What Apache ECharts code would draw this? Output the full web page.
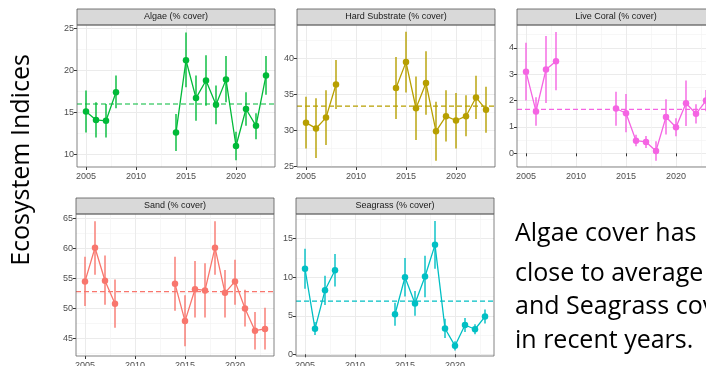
<!DOCTYPE html>
<html>
<head>
<meta charset="utf-8">
<script src="https://cdn.jsdelivr.net/npm/echarts@6/dist/echarts.min.js"></script>
<style>
  html, body { margin: 0; padding: 0; background: #fff; }
  #main { width: 706px; height: 366px; }
</style>
</head>
<body>
<div id="main"></div>
<script>
// survey years (gap 2009-2013)
const years = [2005, 2006, 2007, 2008, 2014, 2015, 2016, 2017, 2018, 2019, 2020, 2021, 2022, 2023];
const yearTicks = [2005, 2010, 2015, 2020];

const algae   = [15.1, 14.1, 14.0, 17.4, 12.6, 21.2, 16.7, 18.8, 15.9, 18.9, 11.0, 15.4, 13.4, 19.4];
const algaeLo = [12.6, 12.0, 12.0, 15.5, 10.4, 18.0, 14.0, 15.8, 13.6, 16.2, 9.3, 13.4, 11.8, 17.1];
const algaeHi = [17.6, 16.2, 16.0, 19.4, 14.8, 24.5, 19.4, 21.8, 18.2, 21.7, 12.7, 17.4, 14.9, 21.7];
const algaeAvg = 16.0;
const algaeTicks = [10, 15, 20, 25];

const hard   = [31.1, 30.3, 31.8, 36.4, 35.9, 39.5, 33.1, 36.6, 29.9, 32.0, 31.4, 32.0, 34.6, 32.9];
const hardLo = [27.5, 26.2, 28.0, 33.0, 31.6, 35.3, 28.7, 32.2, 25.8, 28.5, 27.5, 29.2, 31.6, 29.7];
const hardHi = [34.7, 34.5, 35.6, 39.8, 40.2, 43.7, 37.5, 41.0, 34.0, 35.6, 35.2, 34.9, 37.6, 36.1];
const hardAvg = 33.4;
const hardTicks = [25, 30, 35, 40];

const coral   = [3.10, 1.59, 3.18, 3.49, 1.70, 1.52, 0.48, 0.43, 0.09, 1.38, 0.99, 1.90, 1.50, 2.00];
const coralLo = [2.00, 1.05, 1.91, 2.39, 1.05, 0.80, 0.27, 0.20, -0.28, 0.71, 0.65, 1.04, 1.13, 1.60];
const coralHi = [4.20, 2.13, 4.45, 4.60, 2.34, 2.25, 0.70, 0.66, 0.46, 2.05, 1.33, 2.76, 1.86, 2.40];
const coralAvg = 1.67;
const coralTicks = [0, 1, 2, 3, 4];

const sand   = [54.5, 60.1, 54.6, 50.8, 54.1, 47.9, 53.2, 53.0, 60.1, 52.6, 54.5, 50.0, 46.3, 46.6];
const sandLo = [50.4, 55.6, 50.6, 46.8, 49.6, 43.7, 48.5, 48.5, 55.6, 48.5, 50.6, 47.0, 43.2, 43.2];
const sandHi = [58.6, 64.5, 58.8, 54.8, 58.6, 52.2, 57.9, 57.5, 64.5, 56.4, 58.1, 53.1, 49.4, 50.1];
const sandAvg = 52.8;
const sandTicks = [45, 50, 55, 60, 65];

const seagrass   = [11.1, 3.3, 8.3, 10.9, 5.2, 10.0, 6.6, 10.1, 14.2, 3.35, 1.1, 3.8, 3.25, 4.9];
const seagrassLo = [8.5, 2.5, 6.4, 8.8, 3.7, 7.5, 5.0, 7.4, 11.1, 2.1, 0.5, 2.9, 2.6, 4.0];
const seagrassHi = [13.7, 4.2, 10.2, 13.0, 6.7, 12.5, 8.2, 12.8, 17.3, 4.6, 1.7, 4.7, 3.9, 5.8];
const seagrassAvg = 6.9;
const seagrassTicks = [0, 5, 10, 15];

const titles = ['Algae (% cover)', 'Hard Substrate (% cover)', 'Live Coral (% cover)', 'Sand (% cover)', 'Seagrass (% cover)'];
const colors = ['#00BA38', '#B79F00', '#F564E3', '#F8766D', '#00BFC4'];

const note = ['Algae cover has', 'close to average', 'and Seagrass cov', 'in recent years.'];

// panel placement (px) and padded axis ranges
const W = 198, H = 142;
const X_MIN = 2004.1, X_MAX = 2023.9;
const panels = [
  { left: 77, top: 25, yMin: 8.5, yMax: 25.4, split: 4, v: algae, lo: algaeLo, hi: algaeHi, avg: algaeAvg, ticks: algaeTicks },
  { left: 297, top: 25, yMin: 24.95, yMax: 44.65, split: 4, v: hard, lo: hardLo, hi: hardHi, avg: hardAvg, ticks: hardTicks },
  { left: 517, top: 25, yMin: -0.52, yMax: 4.87, split: 5, v: coral, lo: coralLo, hi: coralHi, avg: coralAvg, ticks: coralTicks },
  { left: 76, top: 214, yMin: 42.1, yMax: 65.7, split: 5, v: sand, lo: sandLo, hi: sandHi, avg: sandAvg, ticks: sandTicks },
  { left: 296, top: 214, yMin: -0.22, yMax: 18.2, split: 4, v: seagrass, lo: seagrassLo, hi: seagrassHi, avg: seagrassAvg, ticks: seagrassTicks }
];

function lineData(vals) {
  const out = [];
  years.forEach((y, k) => {
    if (k > 0 && y - years[k - 1] > 1) out.push([(y + years[k - 1]) / 2, '-']);
    out.push([y, vals[k]]);
  });
  return out;
}

const labelStyle = { fontSize: 9, color: '#4D4D4D', fontFamily: 'Liberation Sans', formatter: v => String(v) };

const grid = [], xAxis = [], yAxis = [], series = [], graphic = [];

panels.forEach((p, i) => {
  const color = colors[i];
  grid.push({ left: p.left, top: p.top, width: W, height: H, containLabel: false, outerBoundsMode: 'none' });
  xAxis.push({
    type: 'value', gridIndex: i, min: X_MIN, max: X_MAX, splitNumber: 4,
    axisLine: { show: false },
    axisTick: { show: true, length: 3, lineStyle: { color: '#333' }, customValues: yearTicks },
    axisLabel: Object.assign({ margin: 5, customValues: yearTicks }, labelStyle),
    splitLine: { show: true, lineStyle: { color: '#EBEBEB', width: 1 } },
    minorTick: { show: false, splitNumber: 2 },
    minorSplitLine: { show: true, lineStyle: { color: '#F4F4F4', width: 0.7 } }
  });
  yAxis.push({
    type: 'value', gridIndex: i, min: p.yMin, max: p.yMax, splitNumber: p.split,
    axisLine: { show: false },
    axisTick: { show: true, length: 3, lineStyle: { color: '#333' }, customValues: p.ticks },
    axisLabel: Object.assign({ margin: 3, customValues: p.ticks }, labelStyle),
    splitLine: { show: true, lineStyle: { color: '#EBEBEB', width: 1 } },
    minorTick: { show: false, splitNumber: 2 },
    minorSplitLine: { show: true, lineStyle: { color: '#F4F4F4', width: 0.7 } }
  });

  // overall mean, dashed across the panel
  series.push({
    type: 'line', xAxisIndex: i, yAxisIndex: i, z: 1,
    data: [[X_MIN, p.avg], [X_MAX, p.avg]],
    symbol: 'none', silent: true,
    lineStyle: { color: color, type: [5, 3], width: 1.2 },
    emphasis: { disabled: true }
  });

  series.push({
    type: 'custom', xAxisIndex: i, yAxisIndex: i, z: 2,
    data: years.map((y, k) => [y, p.lo[k], p.hi[k]]),
    encode: { x: 0, y: [1, 2] },
    renderItem: (params, api) => {
      const a = api.coord([api.value(0), api.value(1)]);
      const b = api.coord([api.value(0), api.value(2)]);
      return {
        type: 'line',
        shape: { x1: a[0], y1: a[1], x2: b[0], y2: b[1] },
        style: { stroke: color, lineWidth: 2, opacity: 0.7 }
      };
    }
  });

  series.push({
    type: 'line', xAxisIndex: i, yAxisIndex: i, z: 3,
    data: lineData(p.v),
    connectNulls: false,
    symbol: 'circle', symbolSize: 6.5, showAllSymbol: true,
    itemStyle: { color: color },
    lineStyle: { color: color, width: 1.3 },
    emphasis: { disabled: true }
  });

  // facet strip
  graphic.push({
    type: 'rect', z: 10,
    shape: { x: p.left, y: p.top - 16, width: W, height: 16 },
    style: { fill: '#D9D9D9', stroke: '#555', lineWidth: 0.8 }
  });
  graphic.push({
    type: 'text', z: 11,
    style: {
      text: titles[i], x: p.left + W / 2, y: p.top - 8,
      font: '9px "Liberation Sans"', fill: '#1A1A1A',
      align: 'center', verticalAlign: 'middle', textAlign: 'center', textVerticalAlign: 'middle'
    }
  });
  // panel border
  graphic.push({
    type: 'rect', z: 10,
    shape: { x: p.left, y: p.top, width: W, height: H },
    style: { fill: 'none', stroke: '#666', lineWidth: 0.8 }
  });
});

graphic.push({
  type: 'text', x: 22, y: 160, rotation: Math.PI / 2,
  style: {
    text: 'Ecosystem Indices', x: 0, y: 0,
    font: '25px "Open Sans"', fill: '#000',
    align: 'center', verticalAlign: 'middle', textAlign: 'center', textVerticalAlign: 'middle'
  }
});

const noteY = [233.5, 273.5, 307, 340.5];
note.forEach((line, k) => {
  graphic.push({
    type: 'text',
    style: {
      text: line, x: 515, y: noteY[k],
      font: '25px "Open Sans"', fill: '#000',
      align: 'left', verticalAlign: 'middle', textAlign: 'left', textVerticalAlign: 'middle'
    }
  });
});

const chart = echarts.init(document.getElementById('main'));
chart.setOption({
  animation: false,
  grid: grid,
  xAxis: xAxis,
  yAxis: yAxis,
  series: series,
  graphic: graphic
});
</script>
</body>
</html>
